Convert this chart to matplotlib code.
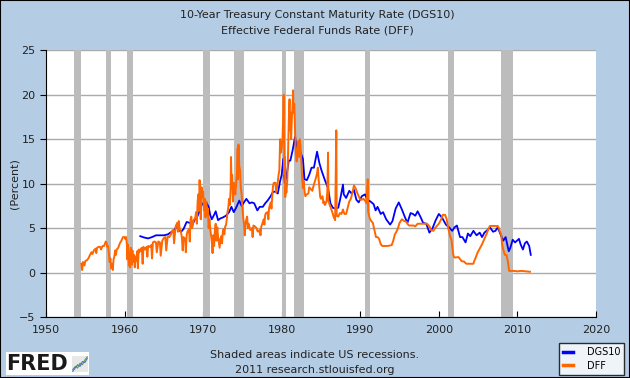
import matplotlib
matplotlib.use("Agg")
import matplotlib.pyplot as plt
from matplotlib.patches import Rectangle

# NBER recessions (start, end) in decimal years
recessions = [(1953.55, 1954.4), (1957.6, 1958.3), (1960.3, 1961.1),
              (1969.95, 1970.9), (1973.9, 1975.2), (1980.05, 1980.55),
              (1981.55, 1982.9), (1990.55, 1991.2), (2001.2, 2001.9),
              (2007.95, 2009.5)]

# 10-Year Treasury Constant Maturity Rate (DGS10)
dgs10_years = [1962.0, 1962.5, 1963.0, 1963.5, 1964.0, 1964.5, 1965.0, 1965.5, 1966.0, 1966.3,
               1966.7, 1966.9, 1967.2, 1967.5, 1967.9, 1968.3, 1968.6, 1968.9, 1969.2, 1969.5,
               1969.9, 1970.2, 1970.4, 1970.7, 1970.9, 1971.1, 1971.4, 1971.6, 1971.9, 1972.2,
               1972.5, 1972.9, 1973.3, 1973.6, 1973.9, 1974.2, 1974.6, 1974.9, 1975.2, 1975.5,
               1975.9, 1976.2, 1976.5, 1976.9, 1977.2, 1977.6, 1977.9, 1978.2, 1978.6, 1978.9,
               1979.2, 1979.5, 1979.8, 1980.0, 1980.2, 1980.4, 1980.6, 1980.9, 1981.1, 1981.4,
               1981.7, 1981.9, 1982.1, 1982.4, 1982.7, 1982.9, 1983.2, 1983.5, 1983.8, 1984.1,
               1984.5, 1984.8, 1985.1, 1985.5, 1985.9, 1986.2, 1986.5, 1986.8, 1987.2, 1987.5,
               1987.8, 1987.9, 1988.2, 1988.6, 1988.9, 1989.2, 1989.5, 1989.8, 1990.2, 1990.6,
               1990.9, 1991.3, 1991.7, 1991.95, 1992.2, 1992.6, 1992.9, 1993.3, 1993.8, 1994.1,
               1994.5, 1994.9, 1995.3, 1995.7, 1996.0, 1996.4, 1996.7, 1997.0, 1997.3, 1997.7,
               1998.0, 1998.4, 1998.8, 1999.2, 1999.6, 2000.0, 2000.4, 2000.9, 2001.3, 2001.7,
               2002.0, 2002.3, 2002.7, 2003.0, 2003.4, 2003.7, 2004.0, 2004.4, 2004.8, 2005.2,
               2005.5, 2005.8, 2006.2, 2006.5, 2006.9, 2007.2, 2007.5, 2007.9, 2008.2, 2008.5,
               2008.9, 2009.1, 2009.4, 2009.7, 2010.2, 2010.4, 2010.7, 2010.95, 2011.2, 2011.5,
               2011.7]
dgs10_vals = [4.1, 3.95, 3.85, 4.0, 4.2, 4.2, 4.2, 4.3, 4.6, 4.8,
              5.2, 4.8, 4.6, 4.9, 5.7, 5.6, 5.3, 5.9, 6.2, 6.8,
              7.8, 7.5, 7.9, 7.4, 6.5, 6.0, 6.5, 6.9, 5.9, 6.1,
              6.2, 6.4, 6.8, 7.4, 6.8, 7.3, 8.1, 7.5, 7.9, 8.3,
              7.8, 7.9, 7.8, 7.0, 7.4, 7.4, 7.8, 8.1, 8.6, 9.1,
              9.1, 8.9, 10.3, 11.0, 12.8, 10.0, 10.8, 12.6, 12.6, 13.8,
              15.3, 14.0, 14.3, 13.5, 12.8, 10.5, 10.4, 11.0, 11.8, 11.8,
              13.6, 12.3, 11.4, 10.4, 9.5, 7.8, 7.3, 7.2, 7.3, 8.5,
              9.9, 8.8, 8.4, 9.2, 8.9, 9.3, 8.2, 7.9, 8.6, 8.8,
              8.2, 8.0, 7.7, 7.0, 7.4, 6.6, 6.8, 6.0, 5.4, 5.8,
              7.2, 7.9, 7.1, 6.2, 5.6, 6.7, 6.6, 6.4, 6.9, 6.2,
              5.6, 5.5, 4.5, 5.0, 5.9, 6.6, 6.2, 5.4, 5.1, 4.7,
              5.1, 5.3, 4.0, 4.0, 3.4, 4.4, 4.1, 4.7, 4.2, 4.5,
              4.0, 4.5, 4.8, 5.1, 4.6, 4.7, 5.1, 4.2, 3.6, 4.0,
              2.4, 2.8, 3.7, 3.4, 3.8, 3.2, 2.6, 3.3, 3.5, 3.0,
              2.0]

# Effective Federal Funds Rate (DFF)
dff_years = [1954.5, 1954.6, 1954.7, 1954.9, 1955.0, 1955.2, 1955.4, 1955.6, 1955.8, 1955.9,
             1956.1, 1956.3, 1956.4, 1956.5, 1956.7, 1956.9, 1957.0, 1957.2, 1957.4, 1957.6,
             1957.7, 1957.8, 1957.9, 1958.0, 1958.1, 1958.2, 1958.3, 1958.4, 1958.5, 1958.6,
             1958.7, 1958.8, 1958.9, 1959.0, 1959.2, 1959.4, 1959.6, 1959.8, 1960.0, 1960.1,
             1960.2, 1960.3, 1960.35, 1960.4, 1960.5, 1960.55, 1960.6, 1960.7, 1960.8, 1960.9,
             1961.0, 1961.1, 1961.2, 1961.3, 1961.4, 1961.5, 1961.6, 1961.7, 1961.8, 1961.9,
             1962.0, 1962.2, 1962.3, 1962.4, 1962.6, 1962.8, 1962.9, 1963.0, 1963.2, 1963.4,
             1963.5, 1963.6, 1963.8, 1964.0, 1964.1, 1964.3, 1964.5, 1964.6, 1964.8, 1965.0,
             1965.2, 1965.3, 1965.5, 1965.7, 1965.9, 1966.0, 1966.2, 1966.3, 1966.5, 1966.7,
             1966.8, 1966.9, 1967.0, 1967.2, 1967.3, 1967.4, 1967.5, 1967.7, 1967.8, 1967.9,
             1968.0, 1968.2, 1968.3, 1968.4, 1968.5, 1968.6, 1968.8, 1969.0, 1969.1, 1969.2,
             1969.3, 1969.4, 1969.5, 1969.55, 1969.6, 1969.7, 1969.8, 1969.9, 1970.0, 1970.1,
             1970.2, 1970.3, 1970.4, 1970.5, 1970.6, 1970.7, 1970.8, 1970.9, 1971.0, 1971.1,
             1971.2, 1971.3, 1971.4, 1971.5, 1971.6, 1971.7, 1971.8, 1971.9, 1972.0, 1972.1,
             1972.2, 1972.3, 1972.4, 1972.5, 1972.6, 1972.7, 1972.8, 1972.9, 1973.0, 1973.1,
             1973.2, 1973.3, 1973.4, 1973.5, 1973.55, 1973.6, 1973.7, 1973.8, 1973.9, 1974.0,
             1974.1, 1974.2, 1974.3, 1974.4, 1974.45, 1974.5, 1974.6, 1974.7, 1974.8, 1974.9,
             1975.0, 1975.1, 1975.2, 1975.3, 1975.4, 1975.5, 1975.6, 1975.7, 1975.8, 1975.9,
             1976.0, 1976.2, 1976.3, 1976.4, 1976.6, 1976.8, 1976.9, 1977.0, 1977.2, 1977.3,
             1977.4, 1977.5, 1977.7, 1977.8, 1977.9, 1978.0, 1978.2, 1978.3, 1978.4, 1978.6,
             1978.7, 1978.8, 1978.9, 1979.0, 1979.2, 1979.3, 1979.5, 1979.6, 1979.7, 1979.8,
             1979.9, 1980.0, 1980.1, 1980.2, 1980.25, 1980.3, 1980.35, 1980.4, 1980.45, 1980.5,
             1980.6, 1980.7, 1980.8, 1980.9, 1981.0, 1981.05, 1981.1, 1981.2, 1981.3, 1981.4,
             1981.45, 1981.5, 1981.6, 1981.7, 1981.8, 1981.9, 1982.0, 1982.1, 1982.2, 1982.3,
             1982.4, 1982.5, 1982.6, 1982.7, 1982.8, 1982.9, 1983.0, 1983.2, 1983.4, 1983.5,
             1983.7, 1983.9, 1984.0, 1984.2, 1984.4, 1984.5, 1984.6, 1984.7, 1984.8, 1984.9,
             1985.0, 1985.2, 1985.3, 1985.4, 1985.5, 1985.7, 1985.8, 1985.9, 1985.95, 1986.0,
             1986.2, 1986.4, 1986.6, 1986.8, 1986.95, 1987.0, 1987.2, 1987.4, 1987.6, 1987.8,
             1987.9, 1988.0, 1988.2, 1988.4, 1988.6, 1988.8, 1989.0, 1989.2, 1989.4, 1989.6,
             1989.8, 1990.0, 1990.2, 1990.4, 1990.6, 1990.8, 1990.95, 1991.0, 1991.2, 1991.4,
             1991.6, 1991.8, 1992.0, 1992.2, 1992.4, 1992.6, 1992.8, 1993.0, 1993.5, 1994.0,
             1994.2, 1994.4, 1994.6, 1994.8, 1995.0, 1995.3, 1995.6, 1995.9, 1996.0, 1996.2,
             1996.5, 1996.8, 1997.0, 1997.3, 1997.6, 1997.9, 1998.2, 1998.5, 1998.8, 1999.0,
             1999.3, 1999.5, 1999.8, 2000.0, 2000.3, 2000.5, 2000.8, 2001.0, 2001.1, 2001.2,
             2001.4, 2001.6, 2001.7, 2001.8, 2001.9, 2002.0, 2002.5, 2002.9, 2003.2, 2003.5,
             2004.0, 2004.4, 2004.5, 2004.7, 2004.9, 2005.2, 2005.5, 2005.8, 2006.1, 2006.3,
             2006.5, 2007.0, 2007.5, 2007.65, 2007.8, 2007.95, 2008.05, 2008.2, 2008.4, 2008.6,
             2008.8, 2008.95, 2009.5, 2010.0, 2010.5, 2011.0, 2011.6]
dff_vals = [1.0, 0.3, 1.2, 0.8, 1.3, 1.4, 1.6, 2.0, 2.3, 2.1,
            2.5, 2.7, 2.2, 2.8, 2.9, 2.9, 2.6, 3.0, 3.0, 3.5,
            3.4, 2.9, 3.0, 2.2, 1.2, 1.6, 0.5, 1.0, 0.3, 1.5,
            1.8, 2.5, 2.0, 2.6, 2.8, 3.3, 3.6, 4.0, 4.0, 3.8,
            4.0, 3.1, 1.5, 3.2, 2.5, 0.8, 2.0, 0.6, 2.8, 0.9,
            2.5, 1.2, 2.0, 0.6, 1.8, 1.3, 2.4, 0.5, 2.6, 2.3,
            2.6, 2.8, 1.0, 2.9, 2.6, 2.9, 1.8, 3.0, 2.9, 3.1,
            1.6, 3.4, 3.5, 3.4, 2.3, 3.5, 3.4, 1.9, 3.6, 3.9,
            4.0, 2.5, 4.1, 4.0, 4.3, 4.6, 4.8, 3.3, 5.2, 5.6,
            4.6, 5.8, 5.0, 4.5, 3.9, 2.5, 4.0, 3.8, 2.3, 4.2,
            4.6, 4.9, 3.5, 6.0, 6.3, 5.0, 5.9, 6.2, 6.8, 5.5,
            8.0, 8.8, 7.0, 10.4, 9.0, 6.0, 9.6, 8.5, 9.1, 7.0,
            8.3, 6.2, 8.0, 6.5, 7.2, 5.0, 6.0, 5.0, 4.2, 3.5,
            2.2, 4.2, 3.0, 4.8, 5.5, 3.6, 5.1, 4.0, 3.4, 2.8,
            3.8, 4.1, 3.3, 4.5, 4.9, 4.3, 5.2, 5.3, 5.9, 6.8,
            7.3, 8.3, 7.6, 9.4, 13.0, 10.5, 11.0, 8.0, 10.1, 9.4,
            8.8, 10.0, 11.2, 14.0, 10.5, 14.4, 12.0, 11.5, 9.5, 8.8,
            7.3, 6.2, 5.5, 4.2, 5.5, 6.0, 6.3, 5.0, 5.5, 5.1,
            4.8, 5.0, 4.0, 5.3, 5.2, 5.0, 4.7, 4.6, 4.8, 4.2,
            5.2, 5.4, 6.0, 5.4, 6.5, 6.7, 6.8, 6.0, 7.3, 7.9,
            7.2, 8.6, 9.8, 10.1, 10.1, 9.0, 10.2, 11.0, 11.5, 15.0,
            13.5, 14.0, 15.0, 17.6, 20.0, 15.5, 11.0, 13.0, 8.5, 9.5,
            9.0, 10.2, 13.0, 17.0, 19.5, 16.0, 18.0, 15.0, 17.5, 19.0,
            20.5, 18.0, 19.0, 16.0, 13.5, 12.5, 13.5, 14.8, 13.0, 15.0,
            14.2, 12.5, 10.5, 9.5, 10.3, 9.2, 8.6, 8.8, 8.9, 9.6,
            9.4, 9.2, 9.6, 10.2, 10.8, 11.2, 11.8, 10.5, 9.5, 8.5,
            8.3, 8.6, 7.8, 8.0, 7.6, 8.0, 9.0, 13.5, 8.1, 7.9,
            7.4, 6.9, 6.3, 5.9, 16.0, 6.4, 6.3, 6.7, 6.6, 7.1,
            6.8, 6.6, 6.6, 7.3, 8.0, 8.3, 9.0, 9.8, 9.5, 9.0,
            8.6, 8.2, 8.2, 8.3, 8.1, 7.8, 10.5, 6.9, 6.1, 5.8,
            5.6, 4.8, 4.0, 4.0, 3.8, 3.2, 3.0, 3.0, 3.0, 3.1,
            3.6, 4.3, 4.6, 5.0, 5.6, 6.0, 5.8, 5.7, 5.5, 5.3,
            5.3, 5.3, 5.2, 5.5, 5.5, 5.5, 5.5, 5.5, 5.2, 4.8,
            4.7, 5.0, 5.3, 5.5, 6.0, 6.5, 6.5, 6.0, 5.5, 5.0,
            4.2, 3.7, 3.0, 2.2, 1.8, 1.7, 1.75, 1.3, 1.25, 1.0,
            1.0, 1.0, 1.3, 1.7, 2.2, 2.7, 3.2, 3.8, 4.4, 4.9,
            5.25, 5.25, 5.25, 5.0, 4.6, 4.2, 3.2, 2.6, 2.0, 2.0,
            1.2, 0.2, 0.2, 0.15, 0.2, 0.15, 0.1]

x_ticks = [1950, 1960, 1970, 1980, 1990, 2000, 2010, 2020]
y_ticks = [-5, 0, 5, 10, 15, 20, 25]

# little chart icon next to the FRED logo
icon_x = [0, 1, 2, 3, 4, 5, 6]
icon_green = [1, 2, 1.5, 3, 2.5, 4, 5]
icon_blue = [0.5, 1.5, 2.5, 2, 3.5, 3.2, 4.5]

bg = "#b4cde5"
txt = "#222222"
plt.rcParams["font.family"] = "DejaVu Sans"

fig = plt.figure(figsize=(6.3, 3.78), dpi=100, facecolor=bg)
ax = fig.add_axes([0.073, 0.161, 0.873, 0.706])
ax.set_facecolor("white")

for a, b in recessions:
    ax.axvspan(a, b, color="#bcbcbc", lw=0, zorder=1)

ax.plot(dgs10_years, dgs10_vals, color="#0000ff", lw=1.3, zorder=3, label="DGS10")
ax.plot(dff_years, dff_vals, color="#ff6600", lw=1.4, zorder=4, label="DFF")

ax.set_xlim(1950, 2020)
ax.set_ylim(-5, 25)
ax.set_xticks(x_ticks)
ax.set_yticks(y_ticks)
ax.yaxis.grid(True, color="#aaaaaa", lw=1)
ax.set_axisbelow(True)
for g in ax.get_ygridlines():
    g.set_zorder(0.5)
ax.tick_params(axis="x", direction="in", length=4, colors="black", labelcolor=txt,
               labelsize=8, pad=6)
ax.tick_params(axis="y", direction="out", length=4, colors="black", labelcolor=txt,
               labelsize=8)
ax.spines["top"].set_visible(False)
ax.spines["right"].set_visible(False)
ax.spines["left"].set_color("black")
ax.spines["bottom"].set_color("black")

fig.text(15 / 630, 0.514, "(Percent)", rotation=90, ha="center", va="center",
         fontsize=8, color=txt)
fig.text(0.503, 0.96, "10-Year Treasury Constant Maturity Rate (DGS10)", ha="center",
         va="center", fontsize=8, color=txt)
fig.text(0.503, 0.918, "Effective Federal Funds Rate (DFF)", ha="center",
         va="center", fontsize=8, color=txt)
fig.text(0.5, 0.062, "Shaded areas indicate US recessions.", ha="center", va="center",
         fontsize=8, color=txt)
fig.text(0.5, 0.022, "2011 research.stlouisfed.org", ha="center", va="center",
         fontsize=8, color=txt)

leg = fig.legend(loc="lower right", bbox_to_anchor=(0.994, 0.004), fontsize=7,
                 frameon=True, fancybox=False, handlelength=1.1, handletextpad=1.4,
                 borderpad=0.4, labelspacing=0.35, borderaxespad=0.2)
leg.get_frame().set_edgecolor("black")
leg.get_frame().set_linewidth(1.0)
for h in leg.legend_handles:
    h.set_linewidth(2.5)

# FRED logo
fig.patches.append(Rectangle((6 / 630, 3 / 378), 83 / 630, 23 / 378,
                             transform=fig.transFigure, facecolor="white",
                             edgecolor="none", zorder=1))
fig.text(6 / 630, 14 / 378, "FRED", fontsize=15, fontweight="heavy", color="#1a1a1a",
         va="center", ha="left", zorder=2)
iax = fig.add_axes([72 / 630, 6 / 378, 16 / 630, 16 / 378])
iax.set_zorder(3)
iax.plot(icon_x, icon_green, color="#5aa04a", lw=0.8)
iax.plot(icon_x, icon_blue, color="#4a6fc0", lw=0.8)
iax.set_facecolor("#e8e8e8")
iax.set_xticks([])
iax.set_yticks([])
for s in iax.spines.values():
    s.set_visible(False)

# outer border
fig.patches.append(Rectangle((0, 0), 1, 1, transform=fig.transFigure, fill=False,
                             edgecolor="black", lw=1.5, zorder=5))

fig.savefig("out.png", dpi=100, facecolor=bg)
